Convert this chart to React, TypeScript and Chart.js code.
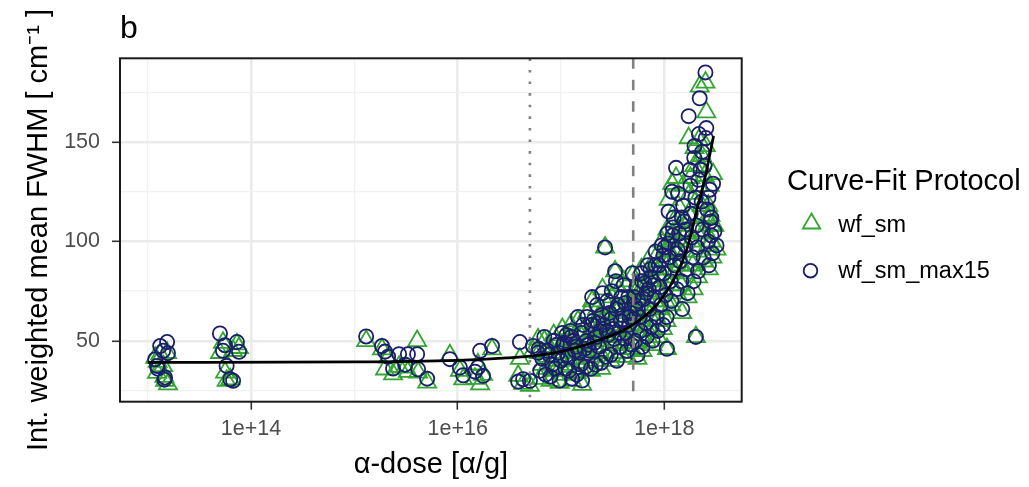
import React, { useEffect, useRef } from 'react';
import { Chart, registerables } from 'chart.js';

Chart.register(...registerables);

const FONT = "'Liberation Sans', Arial, Helvetica, sans-serif";

// ---- data ----
const doses = [
  // cluster ~1e13
  1.18e13, 1.23e13, 1.25e13, 1.32e13, 1.41e13, 1.45e13, 1.47e13, 1.54e13, 1.57e13,
  // cluster ~6e13
  5.0e13, 5.35e13, 5.6e13, 5.8e13, 6.3e13, 6.7e13, 7.3e13, 7.65e13,
  // cluster ~2e15-5e15
  1.3e15, 1.85e15, 1.98e15, 2.12e15, 2.37e15, 2.71e15, 3.1e15, 3.3e15, 4.05e15, 4.14e15, 5.06e15,
  // ~1e16-6e16
  8.4e15, 1.05e16, 1.13e16, 1.47e16, 1.57e16, 1.65e16, 1.76e16, 2.15e16, 3.85e16, 4.0e16, 4.3e16, 5.0e16, 5.35e16, 6.0e16,
  // dense region
  6.1e16, 6.3e16, 6.6e16,
  6.9e16, 7.1e16, 7.4e16,
  7.7e16, 7.9e16, 8.2e16,
  8.5e16, 8.8e16, 9.1e16,
  9.4e16, 9.7e16, 1.0e17, 1.03e17,
  1.07e17, 1.1e17, 1.13e17,
  1.17e17, 1.2e17, 1.24e17, 1.28e17,
  1.32e17, 1.37e17, 1.42e17,
  1.46e17, 1.5e17, 1.55e17, 1.6e17,
  1.64e17, 1.69e17, 1.74e17, 1.79e17,
  1.84e17, 1.89e17, 1.95e17, 2.0e17,
  2.05e17, 2.11e17, 2.17e17, 2.23e17,
  2.28e17, 2.33e17, 2.39e17, 2.45e17, 2.52e17,
  2.67e17, 2.58e17, 2.72e17, 2.8e17,
  2.87e17, 2.95e17, 3.03e17, 3.1e17,
  3.34e17, 3.2e17, 3.27e17, 3.4e17, 3.47e17,
  3.56e17, 3.65e17, 3.75e17, 3.85e17,
  3.95e17, 4.05e17, 4.15e17, 4.26e17, 4.37e17,
  4.48e17, 4.58e17, 4.7e17, 4.82e17, 4.93e17,
  5.05e17, 5.15e17, 5.25e17, 5.37e17, 5.5e17,
  5.62e17, 5.75e17, 5.88e17, 6.0e17, 6.15e17,
  6.3e17, 6.45e17, 6.6e17, 6.75e17, 6.9e17,
  7.05e17, 7.2e17, 7.35e17, 7.5e17, 7.7e17,
  7.9e17, 8.05e17, 8.25e17, 8.45e17, 8.65e17,
  8.85e17, 9.05e17, 9.25e17, 9.45e17, 9.7e17,
  1.06e18, 9.9e17, 1.01e18, 1.03e18, 1.05e18, 1.07e18,
  1.1e18, 1.12e18, 1.15e18, 1.17e18, 1.2e18,
  1.23e18, 1.26e18, 1.29e18, 1.32e18, 1.19e18, 1.3e18,
  1.36e18, 1.39e18, 1.42e18, 1.46e18, 1.49e18,
  1.52e18, 1.56e18, 1.6e18, 1.64e18, 1.68e18,
  1.72e18, 1.76e18, 1.8e18, 1.84e18, 1.88e18, 1.92e18,
  1.96e18, 2.02e18, 2.0e18, 2.04e18, 2.08e18, 2.12e18,
  2.2e18, 2.16e18, 2.25e18, 2.3e18, 2.35e18, 2.4e18,
  2.5e18, 2.55e18, 2.45e18, 2.6e18, 2.65e18, 2.7e18,
  2.75e18, 2.8e18, 2.86e18, 2.92e18,
  2.96e18, 3.05e18, 3.2e18,
  // extra samples in the dense band
  1.05e17, 1.15e17, 1.26e17, 1.4e17, 1.58e17, 1.77e17, 1.98e17, 2.2e17, 2.5e17, 2.76e17,
  3.07e17, 3.44e17, 3.8e17, 4.2e17, 4.62e17, 5.1e17, 5.55e17, 6.07e17, 6.68e17, 7.42e17,
  8.2e17, 8.95e17, 9.8e17, 1.09e18, 1.21e18, 1.34e18, 1.48e18, 1.62e18, 1.79e18, 1.95e18,
  2.14e18, 2.32e18, 2.52e18, 2.67e18, 2.85e18,
];

const wfSm = [
  41.6, 34.0, 39.5, 43.3, 37.4, 32.0, 30.0, 44.0, 28.2,
  44.0, 49.1, 34.1, 30.0, 30.7, 45.0, 48.3, 46.5,
  50.0, 45.8, 35.7, 41.7, 33.2, 37.0, 36.6, 34.5, 50.0, 34.1, 29.1,
  42.8, 35.0, 30.7, 31.0, 38.2, 28.2, 33.0, 45.8, 32.5, 41.0, 28.5, 27.5, 45.0, 50.8,
  44, 31, 38,
  50, 36, 42,
  47, 30, 40,
  53, 35, 44,
  42, 29, 37, 56,
  47, 33, 51,
  44, 38, 58, 30,
  52, 41, 34,
  60, 47, 36, 28,
  55, 43, 39, 64,
  51, 42, 35, 70,
  58, 47, 40, 66,
  62, 45, 53, 36, 76,
  97, 56, 44, 68,
  50, 62, 40, 72,
  85, 58, 48, 78, 42,
  66, 52, 44, 74,
  60, 80, 49, 56, 42,
  70, 55, 62, 46, 83,
  58, 66, 49, 75, 41,
  72, 60, 53, 86, 45,
  68, 77, 57, 50, 90,
  74, 63, 84, 55, 48,
  80, 70, 92, 60, 52,
  86, 75, 66, 100, 56,
  46, 82, 95, 70, 60, 106,
  121, 90, 78, 68, 100,
  110, 85, 96, 74, 129, 132,
  118, 100, 88, 78, 64,
  128, 108, 95, 84, 72,
  152, 124, 112, 100, 88, 76,
  147, 52, 120, 105, 95, 82,
  178, 151, 138, 118, 104, 90,
  180, 165, 133, 112, 98, 86,
  128, 113, 100, 92,
  134, 108, 96,
  46, 40, 50, 45, 52, 48, 56, 50, 60, 52,
  58, 64, 58, 66, 60, 70, 64, 77, 72, 80,
  86, 82, 90, 96, 104, 94, 110, 104, 132, 138,
  128, 143, 148, 118, 108,
];

const wfSmMax15 = [
  40.7, 37.4, 36.0, 47.4, 45.0, 30.5, 31.6, 49.4, 43.8,
  53.7, 45.0, 47.8, 37.4, 30.7, 29.9, 49.4, 44.5,
  52.2, 47.4, 44.6, 42.0, 36.1, 43.3, 38.0, 43.3, 43.3, 35.7, 31.0,
  40.8, 36.6, 32.7, 34.5, 36.6, 45.0, 32.4, 47.4, 29.5, 49.4, 30.7, 29.9, 47.4, 44.0,
  46, 35, 41,
  52, 33, 45,
  43, 32, 38,
  50, 36, 48,
  44, 30, 40, 54,
  49, 36, 53,
  42, 35, 55, 31,
  50, 45, 33,
  62, 44, 38, 30,
  58, 46, 37, 62,
  48, 45, 36, 72,
  60, 49, 38, 68,
  59, 47, 55, 39, 74,
  97, 58, 42, 70,
  53, 64, 43, 75,
  85, 56, 51, 80, 40,
  68, 54, 47, 72,
  63, 78, 51, 54, 45,
  72, 58, 64, 48, 84,
  61, 68, 50, 77, 43,
  70, 62, 55, 84, 47,
  71, 79, 59, 52, 88,
  76, 66, 86, 57, 50,
  78, 72, 95, 62, 55,
  88, 77, 68, 98, 58,
  46, 84, 97, 73, 62, 104,
  115, 92, 80, 70, 103,
  112, 88, 94, 76, 125, 137,
  124, 104, 90, 80, 66,
  118, 110, 98, 86, 74,
  163, 136, 114, 102, 92, 80,
  148, 52, 122, 108, 97, 85,
  172, 154, 136, 120, 106, 92,
  185, 157, 138, 116, 100, 88,
  126, 110, 103, 94,
  129, 105, 98,
  48, 43, 52, 47, 54, 50, 58, 52, 63, 55,
  61, 66, 60, 69, 62, 72, 66, 80, 74, 82,
  88, 84, 93, 99, 107, 96, 112, 106, 128, 142,
  131, 145, 152, 122, 112,
];

const fitDoses = [1e13, 1e15, 1e16, 3e16, 5e16, 1e17, 2.4e17, 5e17, 1e18, 1.65e18, 2e18, 2.5e18, 3e18];
const fitValues = [39.2, 39.4, 40.2, 41.4, 42.3, 44.6, 50.5, 58.3, 73, 96, 113, 133, 153];

const refDoses = [5e16, 5e17];

const xTicks = [1e13, 1e14, 1e15, 1e16, 1e17, 1e18];
const xTickLabels = ['', '1e+14', '', '1e+16', '', '1e+18'];
const yTicks = [25, 50, 75, 100, 125, 150, 175];
const yTickLabels = ['', '50', '', '100', '', '150', ''];

const seriesNames = ['wf_sm', 'wf_sm_max15'];
const legendTitle = 'Curve-Fit Protocol';
const panelTag = 'b';
const xTitle = 'α-dose [α/g]';
const yTitle = 'Int. weighted mean FWHM [ cm⁻¹ ]';

const X_MIN = 5.39e12;
const X_MAX = 5.61e18;
const Y_MIN = 19.4;
const Y_MAX = 192.1;

const GREEN = '#33a532';
const NAVY = '#1b1f6b';

const W = 1029;
const H = 487;

function isMajorX(v: number) {
  const i = xTicks.indexOf(v);
  return i >= 0 && xTickLabels[i] !== '';
}
function isMajorY(v: number) {
  const i = yTicks.indexOf(v);
  return i >= 0 && yTickLabels[i] !== '';
}

function drawTriangle(ctx: CanvasRenderingContext2D, x: number, y: number, r: number) {
  ctx.beginPath();
  ctx.moveTo(x, y - r);
  ctx.lineTo(x + 0.866 * r, y + 0.5 * r);
  ctx.lineTo(x - 0.866 * r, y + 0.5 * r);
  ctx.closePath();
  ctx.stroke();
}

const decorPlugin = {
  id: 'decor',
  afterDatasetsDraw(chart: any) {
    const { ctx, chartArea: a } = chart;
    ctx.save();
    ctx.strokeStyle = '#1a1a1a';
    ctx.lineWidth = 2;
    ctx.strokeRect(a.left, a.top, a.right - a.left, a.bottom - a.top);
    ctx.restore();
  },
  afterDraw(chart: any) {
    const { ctx, chartArea: a } = chart;
    ctx.save();
    ctx.fillStyle = '#000';
    ctx.textBaseline = 'alphabetic';
    ctx.textAlign = 'left';
    ctx.font = `32px ${FONT}`;
    ctx.fillText(panelTag, a.left, 38);

    ctx.font = `29px ${FONT}`;
    ctx.fillText(legendTitle, 787, 189.5);

    ctx.lineWidth = 1.8;
    ctx.strokeStyle = GREEN;
    drawTriangle(ctx, 811.5, 223.5, 10);
    ctx.strokeStyle = NAVY;
    ctx.beginPath();
    ctx.arc(810.5, 270.7, 6.8, 0, Math.PI * 2);
    ctx.stroke();

    ctx.font = `23.5px ${FONT}`;
    ctx.fillStyle = '#000';
    ctx.fillText(seriesNames[0], 838.3, 231.7);
    ctx.fillText(seriesNames[1], 838.3, 278.3);
    ctx.restore();
  },
};

export default function App() {
  const ref = useRef<HTMLCanvasElement>(null);

  useEffect(() => {
    const triPts = doses.map((d, i) => ({ x: d, y: wfSm[i] }));
    const circPts = doses.map((d, i) => ({ x: d, y: wfSmMax15[i] }));
    const fitPts = fitDoses.map((d, i) => ({ x: d, y: fitValues[i] }));

    const chart = new Chart(ref.current as HTMLCanvasElement, {
      type: 'scatter',
      data: {
        datasets: [
          {
            label: 'fit',
            data: fitPts,
            showLine: true,
            pointRadius: 0,
            pointHoverRadius: 0,
            borderColor: '#000',
            borderWidth: 2.7,
            cubicInterpolationMode: 'monotone',
            order: 0,
          } as any,
          {
            label: 'ref1',
            data: [{ x: refDoses[0], y: Y_MAX }, { x: refDoses[0], y: Y_MIN }],
            showLine: true,
            pointRadius: 0,
            borderColor: '#808080',
            borderWidth: 2.6,
            borderDash: [2.6, 9],
            order: 1,
          },
          {
            label: 'ref2',
            data: [{ x: refDoses[1], y: Y_MAX }, { x: refDoses[1], y: Y_MIN }],
            showLine: true,
            pointRadius: 0,
            borderColor: '#808080',
            borderWidth: 2.6,
            borderDash: [10.5, 11],
            order: 1,
          },
          {
            label: seriesNames[1],
            data: circPts,
            pointStyle: 'circle',
            pointRadius: 7.1,
            pointHoverRadius: 7.1,
            pointBorderColor: NAVY,
            pointBackgroundColor: 'rgba(0,0,0,0)',
            pointBorderWidth: 1.8,
            showLine: false,
            order: 2,
          },
          {
            label: seriesNames[0],
            data: triPts,
            pointStyle: 'triangle',
            pointRadius: 10.4,
            pointHoverRadius: 10.4,
            pointBorderColor: GREEN,
            pointBackgroundColor: 'rgba(0,0,0,0)',
            pointBorderWidth: 1.8,
            showLine: false,
            order: 3,
          },
        ],
      },
      options: {
        animation: false,
        responsive: false,
        devicePixelRatio: 1,
        events: [],
        layout: { padding: { left: 0, right: W - 741.7, top: 58.3, bottom: 0 } },
        plugins: {
          legend: { display: false },
          tooltip: { enabled: false },
          title: { display: false },
        },
        scales: {
          x: {
            type: 'logarithmic',
            min: X_MIN,
            max: X_MAX,
            afterBuildTicks: (s: any) => {
              s.ticks = xTicks.map((v) => ({ value: v }));
            },
            afterFit: (s: any) => {
              s.height = H - 401.7;
            },
            border: { display: false },
            grid: {
              color: (c: any) => (c.tick && isMajorX(c.tick.value) ? '#ebebeb' : '#f1f1f1'),
              lineWidth: (c: any) => (c.tick && isMajorX(c.tick.value) ? 2.6 : 1.3),
              tickColor: (c: any) => (c.tick && isMajorX(c.tick.value) ? '#333333' : 'rgba(0,0,0,0)'),
              tickLength: 8,
              tickWidth: 1.6,
            },
            ticks: {
              autoSkip: false,
              maxRotation: 0,
              minRotation: 0,
              padding: 6,
              color: '#4d4d4d',
              font: { family: FONT, size: 21.5 },
              callback: (v: any) => {
                const i = xTicks.indexOf(Number(v));
                return i >= 0 ? xTickLabels[i] : '';
              },
            },
            title: {
              display: true,
              text: xTitle,
              color: '#000',
              font: { family: FONT, size: 29 },
              padding: { top: 0, bottom: 4.6 },
            },
          },
          y: {
            type: 'linear',
            min: Y_MIN,
            max: Y_MAX,
            afterBuildTicks: (s: any) => {
              s.ticks = yTicks.map((v) => ({ value: v }));
            },
            afterFit: (s: any) => {
              s.width = 120;
            },
            border: { display: false },
            grid: {
              color: (c: any) => (c.tick && isMajorY(c.tick.value) ? '#ebebeb' : '#f1f1f1'),
              lineWidth: (c: any) => (c.tick && isMajorY(c.tick.value) ? 2.6 : 1.3),
              tickColor: (c: any) => (c.tick && isMajorY(c.tick.value) ? '#333333' : 'rgba(0,0,0,0)'),
              tickLength: 8,
              tickWidth: 1.6,
            },
            ticks: {
              autoSkip: false,
              padding: 12,
              color: '#4d4d4d',
              font: { family: FONT, size: 21.5 },
              callback: (v: any) => {
                const i = yTicks.indexOf(Number(v));
                return i >= 0 ? yTickLabels[i] : '';
              },
            },
            title: {
              display: true,
              text: yTitle,
              color: '#000',
              font: { family: FONT, size: 29 },
              padding: { top: 21.9, bottom: 0 },
            },
          },
        },
      },
      plugins: [decorPlugin],
    } as any);

    return () => chart.destroy();
  }, []);

  return (
    <div style={{ position: 'absolute', left: 0, top: 0, width: W, height: H, background: '#fff' }}>
      <canvas ref={ref} width={W} height={H} style={{ display: 'block', width: W, height: H }} />
    </div>
  );
}
